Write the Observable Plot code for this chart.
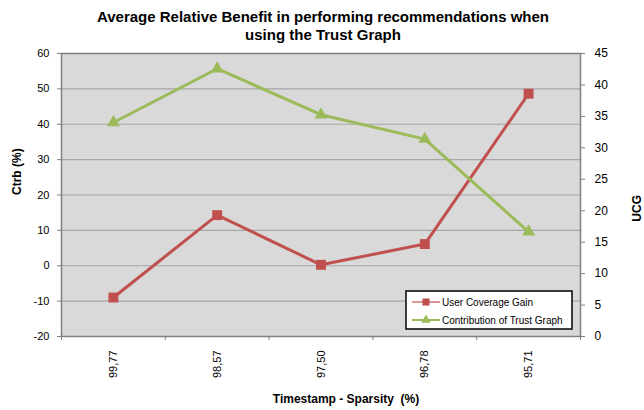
<!DOCTYPE html>
<html><head><meta charset="utf-8">
<script src="https://cdn.jsdelivr.net/npm/d3@7"></script>
<script src="https://cdn.jsdelivr.net/npm/@observablehq/plot@0.6"></script>
<style>body{margin:0;background:#fff;}</style>
</head><body><div id="chart"></div>
<script>
const categories = ["99,77", "98,57", "97,50", "96,78", "95,71"];
const ucgValues = [6.2, 19.3, 11.4, 14.7, 38.6];   // right axis (UCG)
const ctrbValues = [40.5, 55.7, 42.7, 35.8, 9.6];  // left axis (Ctrb %)
const leftTicks = [-20, -10, 0, 10, 20, 30, 40, 50, 60];
const rightTicks = [0, 5, 10, 15, 20, 25, 30, 35, 40, 45];
const seriesNames = ["User Coverage Gain", "Contribution of Trust Graph"];
const titleLines = ["Average Relative Benefit in performing recommendations when", "using the Trust Graph"];

const RED = "#c0504d", GREEN = "#9bbb59";
const toLeft = v => (v * 80) / 45 - 20;
const fromLeft = v => ((v + 20) * 45) / 80;

const data = categories.map((c, i) => ({i, c, ucg: ucgValues[i], ctrb: ctrbValues[i]}));
const boundaries = d3.range(categories.length + 1).map(k => k - 0.5);

const plot = Plot.plot({
  width: 644, height: 410,
  marginLeft: 61, marginRight: 64, marginTop: 53, marginBottom: 74,
  style: {fontFamily: "'Liberation Sans', Arial, sans-serif", fontSize: "11px", color: "#000", background: "#fff", overflow: "visible"},
  x: {type: "linear", domain: [-0.5, categories.length - 0.5]},
  y: {domain: [-20, 60]},
  marks: [
    Plot.frame({fill: "#d9d9d9", stroke: null}),
    Plot.gridY(leftTicks.slice(1, -1), {stroke: "#a6a6a6", strokeOpacity: 1, strokeWidth: 1.2}),
    Plot.frame({stroke: "#808080", strokeWidth: 1.5}),
    Plot.axisY(leftTicks, {anchor: "left", tickSize: 4, tickPadding: 8, stroke: "#808080", fill: "#000", tickFormat: d => String(d), label: null}),
    Plot.axisY(rightTicks.map(toLeft), {anchor: "right", tickSize: 4, tickPadding: 10, stroke: "#808080", fill: "#000", tickFormat: d => String(Math.round(fromLeft(d))), label: null, fontSize: 12}),
    Plot.axisX(boundaries, {tickSize: 4, stroke: "#808080", tickFormat: () => "", label: null}),
    Plot.axisX(d3.range(categories.length), {tickSize: 0, tickPadding: 14, tickRotate: -90, tickFormat: i => categories[i], label: null, fill: "#000"}),
    Plot.line(data, {x: "i", y: d => toLeft(d.ucg), stroke: RED, strokeWidth: 3}),
    Plot.dot(data, {x: "i", y: d => toLeft(d.ucg), symbol: "square", fill: RED, r: 5.6}),
    Plot.line(data, {x: "i", y: "ctrb", stroke: GREEN, strokeWidth: 3}),
    Plot.dot(data, {x: "i", y: "ctrb", symbol: "triangle", fill: GREEN, r: 4.8}),
    Plot.text([titleLines[0]], {text: d => d, frameAnchor: "top", dy: -36, dx: 2, fontSize: 15, fontWeight: "bold", lineAnchor: "middle"}),
    Plot.text([titleLines[1]], {text: d => d, frameAnchor: "top", dy: -18, dx: 2, fontSize: 15, fontWeight: "bold", lineAnchor: "middle"}),
    Plot.text(["Ctrb (%)"], {text: d => d, frameAnchor: "left", dx: -44, rotate: -90, fontSize: 12, fontWeight: "bold"}),
    Plot.text(["UCG"], {text: d => d, frameAnchor: "right", dx: 57, rotate: -90, fontSize: 12, fontWeight: "bold"}),
    Plot.text(["Timestamp - Sparsity  (%)"], {text: d => d, frameAnchor: "bottom", dy: 66, dx: 25, fontSize: 12, fontWeight: "bold"})
  ]
});
document.getElementById("chart").appendChild(plot);

// legend
const svg = d3.select(plot);
const lg = svg.append("g").attr("font-family", "'Liberation Sans', Arial, sans-serif").attr("font-size", 10).attr("text-anchor", "start");
lg.append("rect").attr("x", 406).attr("y", 291).attr("width", 166).attr("height", 38)
  .attr("fill", "#fff").attr("stroke", "#000").attr("stroke-width", 1.5);
const items = [{name: seriesNames[0], color: RED, sym: d3.symbolSquare, size: 50},
               {name: seriesNames[1], color: GREEN, sym: d3.symbolTriangle, size: 40}];
items.forEach((it, k) => {
  const y = 302 + k * 18;
  lg.append("line").attr("x1", 412).attr("x2", 440).attr("y1", y).attr("y2", y)
    .attr("stroke", it.color).attr("stroke-width", 2).attr("stroke-opacity", k === 0 ? 0.6 : 1);
  lg.append("path").attr("d", d3.symbol(it.sym, it.size)()).attr("transform", `translate(426,${y})`).attr("fill", it.color);
  lg.append("text").attr("x", 442).attr("y", y).attr("dy", "0.35em").attr("text-anchor", "start").text(it.name);
});
</script>
</body></html>
